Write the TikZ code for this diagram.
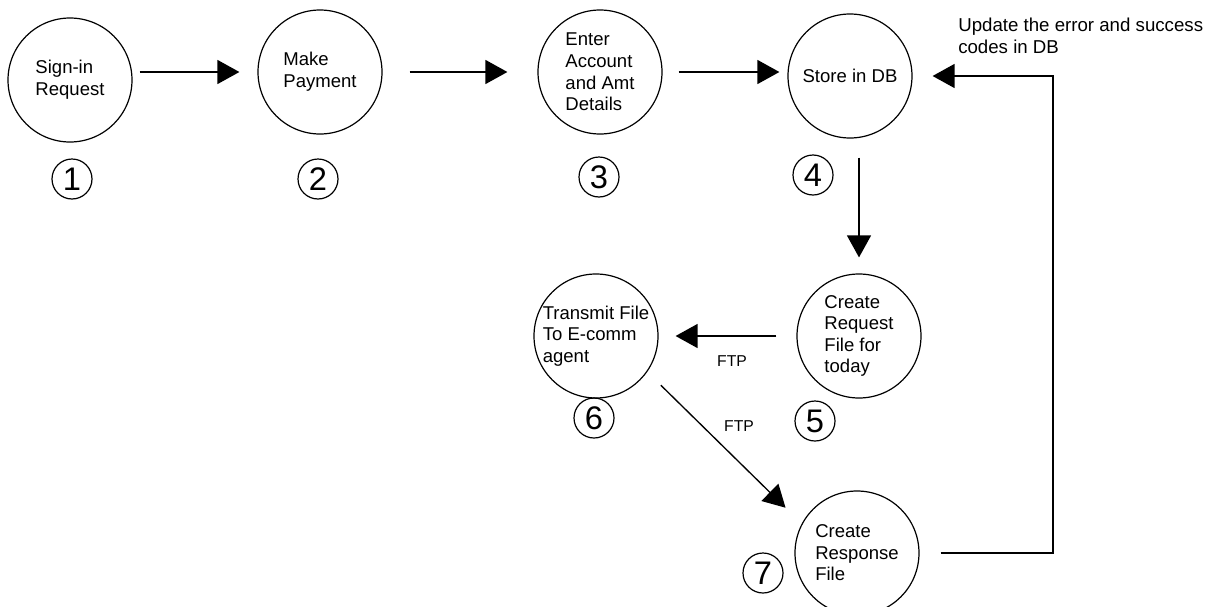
\documentclass[tikz,border=0pt]{standalone}
\usepackage{fontspec}
\setmainfont{Liberation Sans}
\usetikzlibrary{arrows.meta}

\begin{document}
\begin{tikzpicture}[x=0.75pt, y=-0.75pt,
  stepcircle/.style={circle, draw, line width=0.9pt, minimum size=93pt, inner sep=0pt,
    align=left, font={\fontsize{13.9pt}{16.2pt}\selectfont}},
  stepno/.style={circle, draw, line width=0.9pt, minimum size=30pt, inner sep=0pt,
    font={\fontsize{24.5pt}{27pt}\selectfont}},
  flow/.style={line width=1pt, -{Triangle[length=16.5pt, width=18pt]}},
  ftplabel/.style={font={\fontsize{11.8pt}{13pt}\selectfont}, inner sep=0pt},
  note/.style={font={\fontsize{14pt}{16.8pt}\selectfont}, align=left, inner sep=0pt}]

\clip (0,0) rectangle (1214,607);
\useasboundingbox (0,0) rectangle (1214,607);

% process steps
\node[stepcircle] (c1) at (70,80)  {Sign-in\\Request};
\node[stepcircle] (c2) at (320,72) {Make\\Payment};
\node[stepcircle] (c3) at (600,72) {Enter\\Account\\and Amt\\Details};
\node[stepcircle] (c4) at (850,76) {Store in DB};
\node[stepcircle] (c5) at (859,336) {Create\\Request\\File for\\today};
\node[stepcircle] (c6) at (596,336) {Transmit File\\To E-comm\\agent};
\node[stepcircle] (c7) at (857,553) {Create\\Response\\File};

% step numbers
\node[stepno] (n1) at (72,179)  {1};
\node[stepno] (n2) at (318,179) {2};
\node[stepno] (n3) at (599,177) {3};
\node[stepno] (n4) at (813,175) {4};
\node[stepno] (n5) at (815,421) {5};
\node[stepno] (n6) at (594,418) {6};
\node[stepno] (n7) at (763,573) {7};

% flow between steps
\draw[flow, shorten <=5.25pt, shorten >=13.5pt] (c1.east |- c2) -- (c2.west);
\draw[flow, shorten <=20.25pt, shorten >=22.5pt] (c2.east |- c3) -- (c3.west);
\draw[flow, shorten <=12pt, shorten >=6pt] (c3.east) -- (c4.west |- c3.east);
\draw[flow, shorten <=14.25pt, shorten >=12pt] (c5.north |- c4.south) -- (c5.north);
\draw[flow, shorten <=15pt, shorten >=12.75pt] (c5.west) -- (c6.east);
\draw[flow, shorten <=14.25pt, shorten >=17pt] (c6.-35) -- (c7.152);

% feedback to the database
\coordinate (ret) at (1053,76);
\draw[flow, shorten <=15.75pt, shorten >=15pt] (c7.east) -| (ret) -- (c4.east);

% labels
\node[ftplabel] (ftp1) at (732,361) {FTP};
\node[ftplabel] (ftp2) at (739,426) {FTP};
\node[note, anchor=north west] (upd) at (958,17.5) {Update the error and success\\codes in DB};

\end{tikzpicture}
\end{document}
